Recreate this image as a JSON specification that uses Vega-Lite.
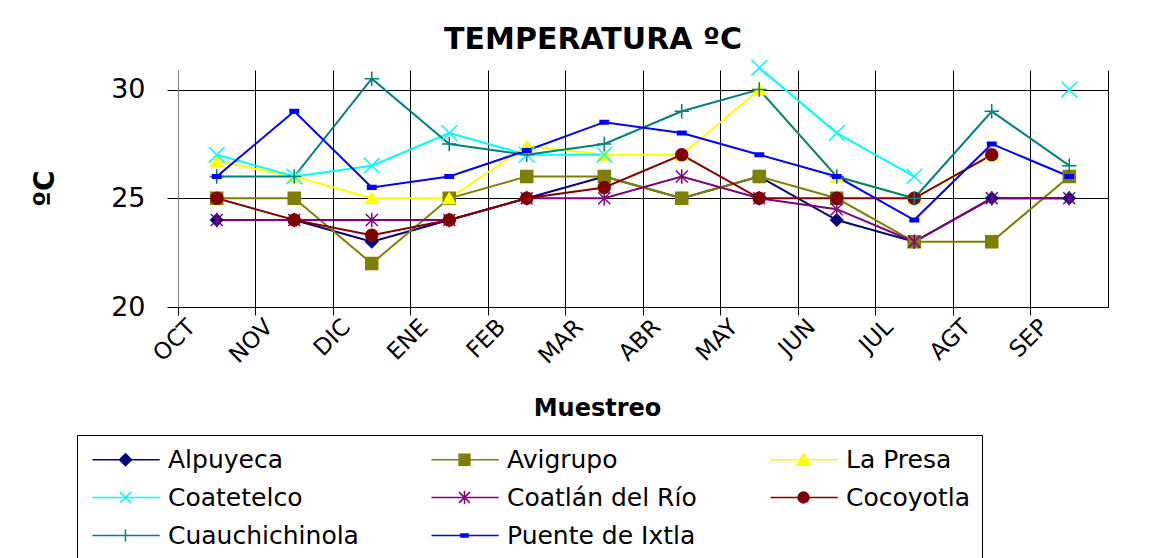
{
  "$schema": "https://vega.github.io/schema/vega-lite/v6.json",
  "width": 930,
  "height": 237,
  "autosize": {"type": "none"},
  "padding": {"left": 178, "top": 70, "right": 61, "bottom": 251},
  "background": "white",
  "config": {"view": {"stroke": null}, "font": "DejaVu Sans"},
  "title": {"text": "TEMPERATURA ºC", "font": "DejaVu Sans", "fontSize": 30, "fontWeight": "bold", "anchor": "middle", "dx": -50, "offset": 2, "color": "black"},
  "data": {"values": [
    {"mes": "OCT", "serie": "Alpuyeca", "t": 24}, {"mes": "NOV", "serie": "Alpuyeca", "t": 24}, {"mes": "DIC", "serie": "Alpuyeca", "t": 23}, {"mes": "ENE", "serie": "Alpuyeca", "t": 24}, {"mes": "FEB", "serie": "Alpuyeca", "t": 25}, {"mes": "MAR", "serie": "Alpuyeca", "t": 26}, {"mes": "ABR", "serie": "Alpuyeca", "t": 25}, {"mes": "MAY", "serie": "Alpuyeca", "t": 26}, {"mes": "JUN", "serie": "Alpuyeca", "t": 24}, {"mes": "JUL", "serie": "Alpuyeca", "t": 23}, {"mes": "AGT", "serie": "Alpuyeca", "t": 25}, {"mes": "SEP", "serie": "Alpuyeca", "t": 25},
    {"mes": "OCT", "serie": "Avigrupo", "t": 25}, {"mes": "NOV", "serie": "Avigrupo", "t": 25}, {"mes": "DIC", "serie": "Avigrupo", "t": 22}, {"mes": "ENE", "serie": "Avigrupo", "t": 25}, {"mes": "FEB", "serie": "Avigrupo", "t": 26}, {"mes": "MAR", "serie": "Avigrupo", "t": 26}, {"mes": "ABR", "serie": "Avigrupo", "t": 25}, {"mes": "MAY", "serie": "Avigrupo", "t": 26}, {"mes": "JUN", "serie": "Avigrupo", "t": 25}, {"mes": "JUL", "serie": "Avigrupo", "t": 23}, {"mes": "AGT", "serie": "Avigrupo", "t": 23}, {"mes": "SEP", "serie": "Avigrupo", "t": 26},
    {"mes": "OCT", "serie": "La Presa", "t": 26.7}, {"mes": "NOV", "serie": "La Presa", "t": 26}, {"mes": "DIC", "serie": "La Presa", "t": 25}, {"mes": "ENE", "serie": "La Presa", "t": 25}, {"mes": "FEB", "serie": "La Presa", "t": 27.4}, {"mes": "MAR", "serie": "La Presa", "t": 27}, {"mes": "ABR", "serie": "La Presa", "t": 27}, {"mes": "MAY", "serie": "La Presa", "t": 30}, {"mes": "JUN", "serie": "La Presa", "t": 26}, {"mes": "JUL", "serie": "La Presa", "t": 25}, {"mes": "AGT", "serie": "La Presa", "t": 27}, {"mes": "SEP", "serie": "La Presa", "t": null},
    {"mes": "OCT", "serie": "Coatetelco", "t": 27}, {"mes": "NOV", "serie": "Coatetelco", "t": 26}, {"mes": "DIC", "serie": "Coatetelco", "t": 26.5}, {"mes": "ENE", "serie": "Coatetelco", "t": 28}, {"mes": "FEB", "serie": "Coatetelco", "t": 27}, {"mes": "MAR", "serie": "Coatetelco", "t": 27}, {"mes": "ABR", "serie": "Coatetelco", "t": null}, {"mes": "MAY", "serie": "Coatetelco", "t": 31}, {"mes": "JUN", "serie": "Coatetelco", "t": 28}, {"mes": "JUL", "serie": "Coatetelco", "t": 26}, {"mes": "AGT", "serie": "Coatetelco", "t": null}, {"mes": "SEP", "serie": "Coatetelco", "t": 30},
    {"mes": "OCT", "serie": "Coatlán del Río", "t": 24}, {"mes": "NOV", "serie": "Coatlán del Río", "t": 24}, {"mes": "DIC", "serie": "Coatlán del Río", "t": 24}, {"mes": "ENE", "serie": "Coatlán del Río", "t": 24}, {"mes": "FEB", "serie": "Coatlán del Río", "t": 25}, {"mes": "MAR", "serie": "Coatlán del Río", "t": 25}, {"mes": "ABR", "serie": "Coatlán del Río", "t": 26}, {"mes": "MAY", "serie": "Coatlán del Río", "t": 25}, {"mes": "JUN", "serie": "Coatlán del Río", "t": 24.5}, {"mes": "JUL", "serie": "Coatlán del Río", "t": 23}, {"mes": "AGT", "serie": "Coatlán del Río", "t": 25}, {"mes": "SEP", "serie": "Coatlán del Río", "t": 25},
    {"mes": "OCT", "serie": "Cocoyotla", "t": 25}, {"mes": "NOV", "serie": "Cocoyotla", "t": 24}, {"mes": "DIC", "serie": "Cocoyotla", "t": 23.3}, {"mes": "ENE", "serie": "Cocoyotla", "t": 24}, {"mes": "FEB", "serie": "Cocoyotla", "t": 25}, {"mes": "MAR", "serie": "Cocoyotla", "t": 25.5}, {"mes": "ABR", "serie": "Cocoyotla", "t": 27}, {"mes": "MAY", "serie": "Cocoyotla", "t": 25}, {"mes": "JUN", "serie": "Cocoyotla", "t": 25}, {"mes": "JUL", "serie": "Cocoyotla", "t": 25}, {"mes": "AGT", "serie": "Cocoyotla", "t": 27}, {"mes": "SEP", "serie": "Cocoyotla", "t": null},
    {"mes": "OCT", "serie": "Cuauchichinola", "t": 26}, {"mes": "NOV", "serie": "Cuauchichinola", "t": 26}, {"mes": "DIC", "serie": "Cuauchichinola", "t": 30.5}, {"mes": "ENE", "serie": "Cuauchichinola", "t": 27.5}, {"mes": "FEB", "serie": "Cuauchichinola", "t": 27}, {"mes": "MAR", "serie": "Cuauchichinola", "t": 27.5}, {"mes": "ABR", "serie": "Cuauchichinola", "t": 29}, {"mes": "MAY", "serie": "Cuauchichinola", "t": 30}, {"mes": "JUN", "serie": "Cuauchichinola", "t": 26}, {"mes": "JUL", "serie": "Cuauchichinola", "t": 25}, {"mes": "AGT", "serie": "Cuauchichinola", "t": 29}, {"mes": "SEP", "serie": "Cuauchichinola", "t": 26.5},
    {"mes": "OCT", "serie": "Puente de Ixtla", "t": 26}, {"mes": "NOV", "serie": "Puente de Ixtla", "t": 29}, {"mes": "DIC", "serie": "Puente de Ixtla", "t": 25.5}, {"mes": "ENE", "serie": "Puente de Ixtla", "t": 26}, {"mes": "FEB", "serie": "Puente de Ixtla", "t": 27.2}, {"mes": "MAR", "serie": "Puente de Ixtla", "t": 28.5}, {"mes": "ABR", "serie": "Puente de Ixtla", "t": 28}, {"mes": "MAY", "serie": "Puente de Ixtla", "t": 27}, {"mes": "JUN", "serie": "Puente de Ixtla", "t": 26}, {"mes": "JUL", "serie": "Puente de Ixtla", "t": 24}, {"mes": "AGT", "serie": "Puente de Ixtla", "t": 27.5}, {"mes": "SEP", "serie": "Puente de Ixtla", "t": 26}
  ]},
  "encoding": {
    "x": {
      "field": "mes", "type": "ordinal",
      "sort": ["OCT", "NOV", "DIC", "ENE", "FEB", "MAR", "ABR", "MAY", "JUN", "JUL", "AGT", "SEP"],
      "scale": {"type": "band", "paddingInner": 0, "paddingOuter": 0, "domain": ["OCT", "NOV", "DIC", "ENE", "FEB", "MAR", "ABR", "MAY", "JUN", "JUL", "AGT", "SEP"]},
      "axis": {
        "bandPosition": 0, "title": "Muestreo", "titleFont": "DejaVu Sans", "titleFontSize": 24, "titleFontWeight": "bold", "titleColor": "black",
        "titleX": 419, "titleY": 101, "titleBaseline": "middle", "titleAlign": "center",
        "labelAngle": -45, "labelAlign": "right", "labelBaseline": "middle", "labelFont": "DejaVu Sans", "labelFontSize": 23, "labelColor": "black",
        "labelOffset": -25, "labelPadding": 8, "labelOverlap": false, "labelFlush": false,
        "tickSize": 8, "tickColor": "black", "domainColor": "black", "grid": true, "gridColor": "black", "gridOpacity": 1, "gridWidth": 1
      }
    }
  },
  "layer": [
    {
      "mark": {"type": "line", "strokeWidth": 2, "invalid": "break-paths-filter-domains"},
      "encoding": {
        "y": {
          "field": "t", "type": "quantitative",
          "scale": {"domain": [20, 30.9], "nice": false, "zero": false},
          "axis": {
            "title": "ºC", "titleFont": "DejaVu Sans", "titleFontSize": 28, "titleFontWeight": "bold", "titleColor": "black",
            "titleX": -133, "titleY": 118, "titleBaseline": "middle", "titleAlign": "center", "titleAngle": -90,
            "values": [20, 25, 30], "grid": true, "gridColor": "black", "gridOpacity": 1,
            "tickSize": 11, "tickColor": "black", "domainColor": "#808080",
            "labelFont": "DejaVu Sans", "labelFontSize": 27, "labelPadding": 22, "labelColor": "black"
          }
        },
        "stroke": {
          "field": "serie", "type": "nominal",
          "scale": {"domain": ["Alpuyeca", "Avigrupo", "La Presa", "Coatetelco", "Coatlán del Río", "Cocoyotla", "Cuauchichinola", "Puente de Ixtla"], "range": ["#000080", "#808000", "#FFFF00", "#00FFFF", "#800080", "#800000", "#008080", "#0000FF"]},
          "legend": null
        }
      }
    },
    {
      "mark": {"type": "point", "size": 144, "strokeWidth": 1.5, "filled": true, "opacity": 1},
      "encoding": {
        "y": {
          "field": "t", "type": "quantitative",
          "scale": {"domain": [20, 30.9], "nice": false, "zero": false},
          "axis": {"orient": "right", "labels": false, "ticks": false, "grid": false, "title": null, "domainColor": "black"}
        },
        "fill": {
          "field": "serie", "type": "nominal",
          "scale": {"domain": ["Alpuyeca", "Avigrupo", "La Presa", "Coatetelco", "Coatlán del Río", "Cocoyotla", "Cuauchichinola", "Puente de Ixtla"], "range": ["#000080", "#808000", "#FFFF00", "#00FFFF", "#800080", "#800000", "#008080", "#0000FF"]},
          "legend": null
        },
        "stroke": {
          "field": "serie", "type": "nominal",
          "scale": {"domain": ["Alpuyeca", "Avigrupo", "La Presa", "Coatetelco", "Coatlán del Río", "Cocoyotla", "Cuauchichinola", "Puente de Ixtla"], "range": ["#000080", "#808000", "#FFFF00", "#00FFFF", "#800080", "#800000", "#008080", "#0000FF"]},
          "legend": null
        },
        "shape": {
          "field": "serie", "type": "nominal",
          "scale": {"domain": ["Alpuyeca", "Avigrupo", "La Presa", "Coatetelco", "Coatlán del Río", "Cocoyotla", "Cuauchichinola", "Puente de Ixtla"], "range": ["diamond", "square", "triangle-up", "M-1.3,-1.3L1.3,1.3M-1.3,1.3L1.3,-1.3", "M-1,-1L1,1M-1,1L1,-1M0,-1.2V1.2", "circle", "M-1.2,0H1.2M0,-1.2V1.2", "M-0.7,-0.3H0.7V0.3H-0.7Z"]},
          "legend": null
        }
      }
    },
    {
      "transform": [{"filter": "false"}],
      "mark": {"type": "point", "filled": true, "strokeWidth": 1.5, "opacity": 1},
      "encoding": {
        "fill": {
          "field": "serie", "type": "nominal",
          "scale": {"domain": ["Alpuyeca", "Avigrupo", "La Presa", "Coatetelco", "Coatlán del Río", "Cocoyotla", "Cuauchichinola", "Puente de Ixtla"], "range": ["#000080", "#808000", "#FFFF00", "#00FFFF", "#800080", "#800000", "#008080", "#0000FF"]},
          "legend": {"title": null, "orient": "none", "direction": "horizontal", "legendX": -101, "legendY": 365, "columns": 3, "gridAlign": "all", "columnPadding": 69, "rowPadding": 12, "padding": 12, "strokeColor": "black", "fillColor": "white", "labelFont": "DejaVu Sans", "labelFontSize": 25, "labelColor": "black", "labelLimit": 400, "labelOffset": 54, "symbolSize": 144, "symbolStrokeWidth": 1.5}
        },
        "stroke": {
          "field": "serie", "type": "nominal",
          "scale": {"domain": ["Alpuyeca", "Avigrupo", "La Presa", "Coatetelco", "Coatlán del Río", "Cocoyotla", "Cuauchichinola", "Puente de Ixtla"], "range": ["#000080", "#808000", "#FFFF00", "#00FFFF", "#800080", "#800000", "#008080", "#0000FF"]},
          "legend": {"title": null, "orient": "none", "direction": "horizontal", "legendX": -101, "legendY": 365, "columns": 3, "gridAlign": "all", "columnPadding": 69, "rowPadding": 12, "padding": 12, "strokeColor": "black", "fillColor": "white", "labelFont": "DejaVu Sans", "labelFontSize": 25, "labelColor": "black", "labelLimit": 400, "labelOffset": 54, "symbolSize": 144, "symbolStrokeWidth": 1.5}
        },
        "shape": {
          "field": "serie", "type": "nominal",
          "scale": {"domain": ["Alpuyeca", "Avigrupo", "La Presa", "Coatetelco", "Coatlán del Río", "Cocoyotla", "Cuauchichinola", "Puente de Ixtla"], "range": [
            "M-1.5,0H9.7M4,-1L5,0L4,1L3,0Z",
            "M-1.5,0H9.7M3.1,-0.9H4.9V0.9H3.1Z",
            "M-1.5,0H9.7M4,-1L5.1,0.9H2.9Z",
            "M-1.5,0H9.7M3.1,-0.9L4.9,0.9M3.1,0.9L4.9,-0.9",
            "M-1.5,0H9.7M3.1,-0.9L4.9,0.9M3.1,0.9L4.9,-0.9M4,-1.1V1.1",
            "M-1.5,0H9.7M3.1,0A0.9,0.9,0,1,1,4.9,0A0.9,0.9,0,1,1,3.1,0Z",
            "M-1.5,0H9.7M4,-1V1",
            "M-1.5,0H9.7M3.4,-0.25H4.6V0.25H3.4Z"
          ]},
          "legend": {"title": null, "orient": "none", "direction": "horizontal", "legendX": -101, "legendY": 365, "columns": 3, "gridAlign": "all", "columnPadding": 69, "rowPadding": 12, "padding": 12, "strokeColor": "black", "fillColor": "white", "labelFont": "DejaVu Sans", "labelFontSize": 25, "labelColor": "black", "labelLimit": 400, "labelOffset": 54, "symbolSize": 144, "symbolStrokeWidth": 1.5}
        }
      }
    }
  ],
  "resolve": {
    "scale": {"shape": "independent", "fill": "independent", "stroke": "independent"},
    "axis": {"y": "independent"}
  }
}
